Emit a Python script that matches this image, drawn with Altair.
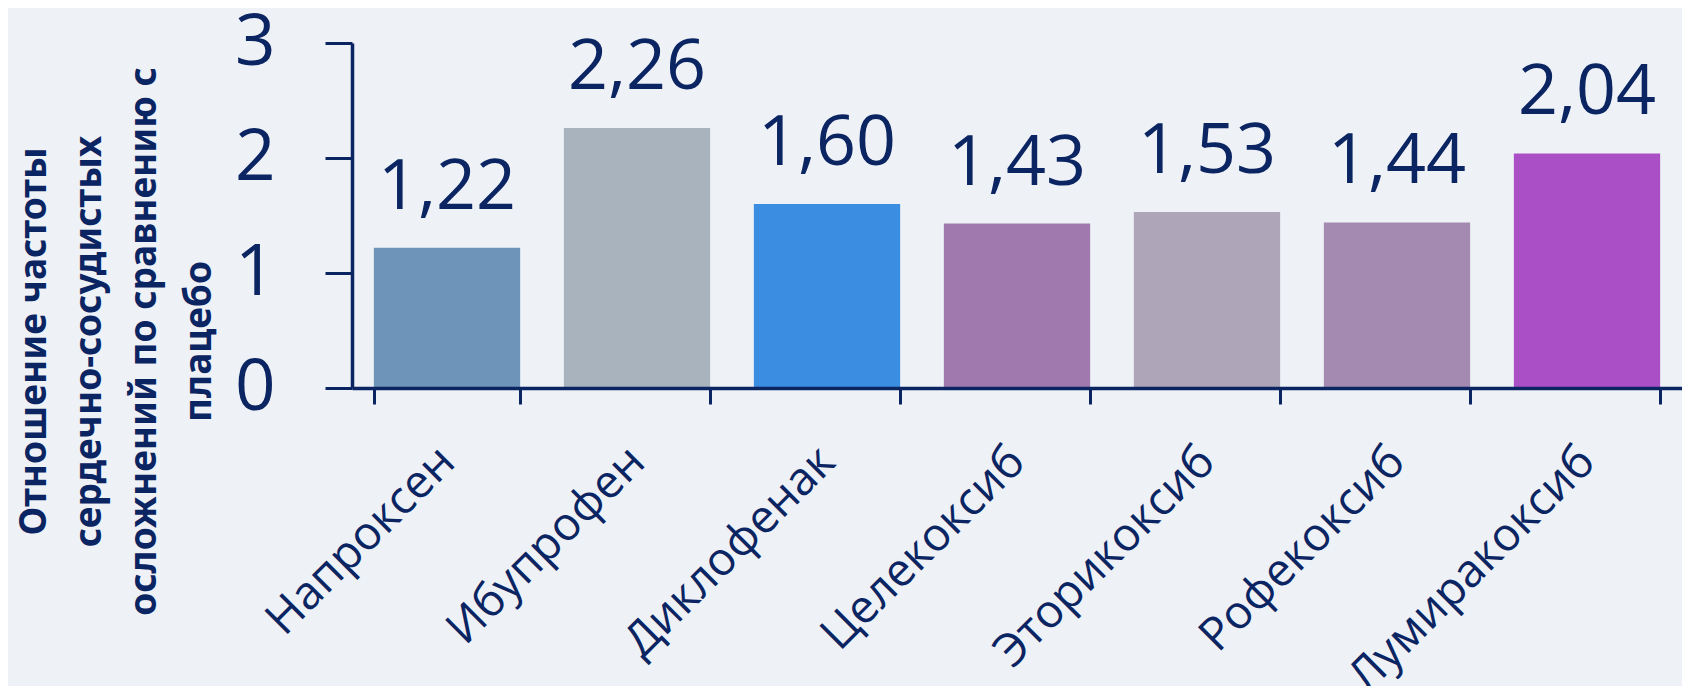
import altair as alt
import pandas as pd

drugs = ["Напроксен", "Ибупрофен", "Диклофенак", "Целекоксиб",
         "Эторикоксиб", "Рофекоксиб", "Лумиракоксиб"]
ratios = [1.22, 2.26, 1.60, 1.43, 1.53, 1.44, 2.04]
bar_colors = ["#6f94ba", "#a8b3be", "#3a8de0", "#a07aae",
              "#aea5b8", "#a48ab0", "#ab4fc6"]
y_ticks = [0, 1, 2, 3]
y_title = ["Отношение частоты", "сердечно-сосудистых",
           "осложнений по сравнению  с", "плацебо"]

labels = [f"{v:.2f}".replace(".", ",") for v in ratios]
df = pd.DataFrame({"drug": drugs, "ratio": ratios, "label": labels})

NAVY = "#0b2462"
FONT = "Open Sans"

x_enc = alt.X(
    "drug:N", sort=drugs,
    scale=alt.Scale(paddingInner=0.23, paddingOuter=0.115),
    axis=alt.Axis(
        title=None, labelAngle=315, labelAlign="right", labelBaseline="middle",
        labelFontSize=46, labelFont=FONT, labelColor=NAVY, labelPadding=50,
        labelLimit=0, tickBand="extent", tickSize=16, tickWidth=3,
        tickColor=NAVY, domainColor=NAVY, domainWidth=3.5, zindex=1,
    ),
)
y_enc = alt.Y(
    "ratio:Q",
    scale=alt.Scale(domain=[0, 3], nice=False),
    axis=alt.Axis(
        values=y_ticks, format="d", grid=False, title=y_title,
        labelFontSize=71, labelFont=FONT, labelColor=NAVY, labelPadding=50,
        tickSize=27, tickWidth=3, tickColor=NAVY,
        domainColor=NAVY, domainWidth=3.5, zindex=1,
        titleFont="Noto Sans", titleFontWeight="bold", titleFontSize=37,
        titleColor=NAVY, titleLineHeight=55, titleAngle=270,
        titleAlign="center", titleBaseline="top", titleX=-336, titleY=298,
    ),
)

bars = alt.Chart(df).mark_bar().encode(
    x=x_enc, y=y_enc,
    color=alt.Color("drug:N", scale=alt.Scale(domain=drugs, range=bar_colors), legend=None),
)
text = alt.Chart(df).mark_text(
    dy=-39, baseline="alphabetic", fontSize=70, font=FONT, color=NAVY
).encode(
    x=alt.X("drug:N", sort=drugs), y=alt.Y("ratio:Q"), text="label:N"
)

chart = alt.layer(bars, text).properties(
    width=1330, height=345,
    padding={"left": 344, "top": 35, "right": 0, "bottom": 298},
    autosize=alt.AutoSizeParams(type="none"),
    background="#eef2f7",
).configure_view(stroke=None)

chart.save("out.html", embed_options={"renderer": "svg", "actions": False})
